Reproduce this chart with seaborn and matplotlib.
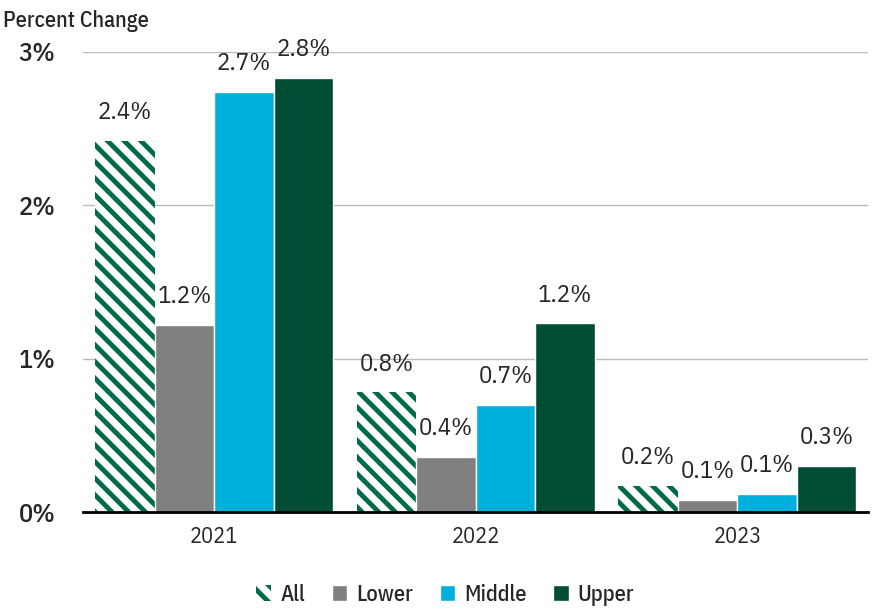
import numpy as np
import pandas as pd
import seaborn as sns
from matplotlib import pyplot as plt
from matplotlib.patches import Patch

# Data
years = ["2021", "2022", "2023"]
groups = ["All", "Lower", "Middle", "Upper"]
all_vals = [2.42, 0.78, 0.17]
lower_vals = [1.22, 0.36, 0.08]
middle_vals = [2.74, 0.70, 0.12]
upper_vals = [2.83, 1.23, 0.30]

colors = {"All": "#ffffff", "Lower": "#808080", "Middle": "#00b0dc", "Upper": "#004d36"}
hatch_green = "#006b4a"

df = pd.DataFrame({
    "Year": np.repeat(years, len(groups)),
    "Group": groups * len(years),
    "Value": [v for trio in zip(all_vals, lower_vals, middle_vals, upper_vals) for v in trio],
})

sns.set_style("white")
plt.rcParams["font.family"] = ["IBM Plex Sans Condensed", "DejaVu Sans"]
plt.rcParams["hatch.linewidth"] = 3.5

fig, ax = plt.subplots(figsize=(8.76, 6.11), dpi=100)
fig.subplots_adjust(left=0.095, right=0.991, top=0.915, bottom=0.162)

sns.barplot(data=df, x="Year", y="Value", hue="Group", order=years, hue_order=groups,
            palette=colors, saturation=1, width=0.91, edgecolor="white", linewidth=1,
            legend=False, ax=ax)

# Hatch the "All" bars
for bar in ax.containers[0]:
    bar.set_hatch("\\\\")
    bar.set_edgecolor(hatch_green)
    bar.set_linewidth(0)

for cont in ax.containers:
    ax.bar_label(cont, labels=[f"{b.get_height():.1f}%" for b in cont],
                 padding=12, fontsize=18)

ax.set_ylim(0, 3)
ax.set_xlim(-0.5, 2.5)
ax.set_yticks([0, 1, 2, 3])
ax.set_yticklabels(["0%", "1%", "2%", "3%"], fontsize=19, fontweight="medium")
ax.tick_params(axis="x", labelsize=16, length=0, pad=10)
ax.tick_params(axis="y", length=0, pad=20)
ax.yaxis.grid(True, color="#bbbbbb", linewidth=1)
ax.set_axisbelow(True)
ax.set_xlabel("")
ax.set_ylabel("")
sns.despine(ax=ax, left=True, top=True, right=True)
ax.spines["bottom"].set_color("black")
ax.spines["bottom"].set_linewidth(2)

fig.text(0.003, 0.965, "Percent Change", fontsize=16, fontweight="medium", ha="left", va="center")

handles = [Patch(facecolor="white", edgecolor=hatch_green, hatch="\\\\", linewidth=0, label="All")]
handles += [Patch(facecolor=colors[g], edgecolor="white", label=g) for g in groups[1:]]
fig.legend(handles=handles, loc="center", bbox_to_anchor=(0.508, 0.027), ncol=4,
           frameon=False, handlelength=0.7, handleheight=0.7,
           handletextpad=0.4, columnspacing=1.2, prop={"weight": "medium", "size": 16})

plt.savefig("out.png", dpi=100)
